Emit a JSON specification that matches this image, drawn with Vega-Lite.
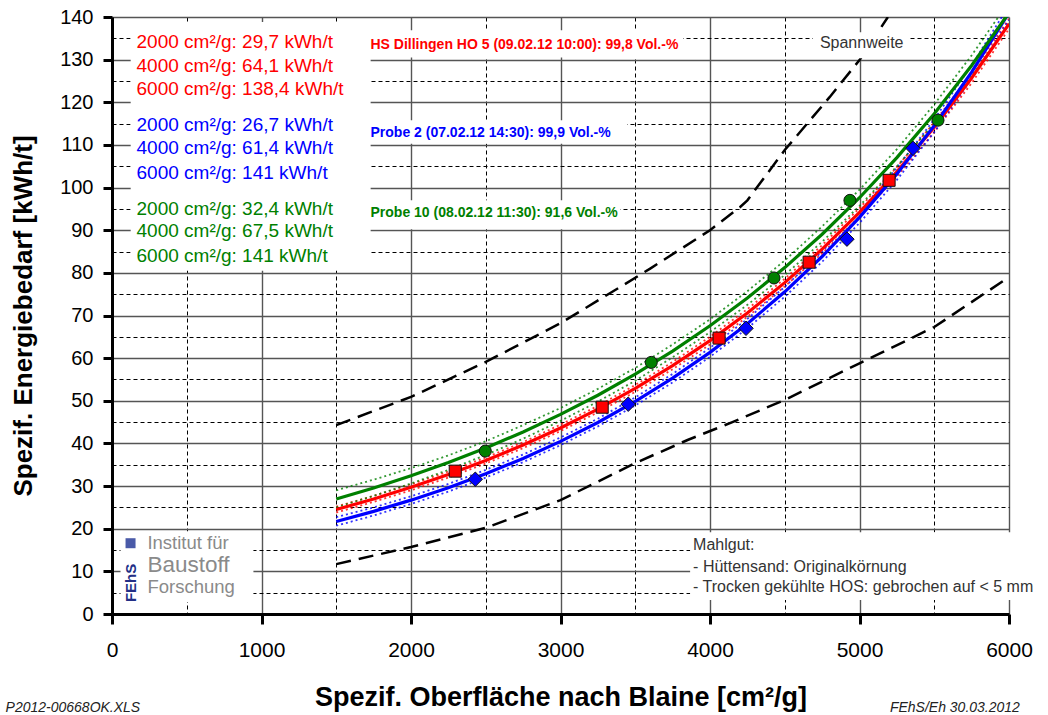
{
  "$schema": "https://vega.github.io/schema/vega-lite/v6.json",
  "width": 897,
  "height": 597,
  "autosize": {"type": "none"},
  "padding": {"left": 112, "top": 17, "right": 39, "bottom": 101},
  "background": "white",
  "config": {"view": {"stroke": null}, "font": "Liberation Sans"},
  "datasets": {
    "span": [
      {"x": 1500, "c": "upper", "y": 44.3}, {"x": 2000, "c": "upper", "y": 50.9}, {"x": 2500, "c": "upper", "y": 59.1},
      {"x": 3000, "c": "upper", "y": 68.2}, {"x": 3400, "c": "upper", "y": 76.7}, {"x": 3600, "c": "upper", "y": 81.0},
      {"x": 4000, "c": "upper", "y": 90.0}, {"x": 4200, "c": "upper", "y": 95.4}, {"x": 4250, "c": "upper", "y": 97.0},
      {"x": 4500, "c": "upper", "y": 108.8}, {"x": 4800, "c": "upper", "y": 121.2}, {"x": 5000, "c": "upper", "y": 129.9},
      {"x": 5190, "c": "upper", "y": 140.0},
      {"x": 1500, "c": "lower", "y": 11.7}, {"x": 2000, "c": "lower", "y": 15.7}, {"x": 2500, "c": "lower", "y": 20.2},
      {"x": 3000, "c": "lower", "y": 26.7}, {"x": 3500, "c": "lower", "y": 35.4}, {"x": 3850, "c": "lower", "y": 40.8},
      {"x": 4150, "c": "lower", "y": 45.0}, {"x": 4500, "c": "lower", "y": 50.2}, {"x": 5000, "c": "lower", "y": 58.8},
      {"x": 5500, "c": "lower", "y": 67.3}, {"x": 6000, "c": "lower", "y": 79.0}
    ],
    "fits": [
      {"x": 1500, "s": "HS", "y": 24.5, "lo": 23.8, "hi": 25.2},
      {"x": 1750, "s": "HS", "y": 26.98, "lo": 26.3, "hi": 27.7},
      {"x": 2000, "s": "HS", "y": 29.7, "lo": 29.0, "hi": 30.4},
      {"x": 2250, "s": "HS", "y": 32.7, "lo": 32.0, "hi": 33.4},
      {"x": 2500, "s": "HS", "y": 36.0, "lo": 35.3, "hi": 36.7},
      {"x": 2750, "s": "HS", "y": 39.63, "lo": 38.9, "hi": 40.3},
      {"x": 3000, "s": "HS", "y": 43.63, "lo": 42.9, "hi": 44.4},
      {"x": 3250, "s": "HS", "y": 48.04, "lo": 47.3, "hi": 48.8},
      {"x": 3500, "s": "HS", "y": 52.89, "lo": 52.1, "hi": 53.7},
      {"x": 3750, "s": "HS", "y": 58.23, "lo": 57.4, "hi": 59.1},
      {"x": 4000, "s": "HS", "y": 64.11, "lo": 63.2, "hi": 65.0},
      {"x": 4250, "s": "HS", "y": 70.58, "lo": 69.7, "hi": 71.5},
      {"x": 4500, "s": "HS", "y": 77.71, "lo": 76.8, "hi": 78.6},
      {"x": 4750, "s": "HS", "y": 85.55, "lo": 84.6, "hi": 86.5},
      {"x": 5000, "s": "HS", "y": 94.19, "lo": 93.2, "hi": 95.2},
      {"x": 5250, "s": "HS", "y": 103.7, "lo": 102.6, "hi": 104.8},
      {"x": 5500, "s": "HS", "y": 114.17, "lo": 113.0, "hi": 115.3},
      {"x": 5750, "s": "HS", "y": 125.7, "lo": 124.5, "hi": 126.9},
      {"x": 6000, "s": "HS", "y": 138.39, "lo": 137.2, "hi": 139.6},
      {"x": 1500, "s": "P2", "y": 21.69, "lo": 20.7, "hi": 22.7},
      {"x": 1750, "s": "P2", "y": 24.06, "lo": 23.1, "hi": 25.0},
      {"x": 2000, "s": "P2", "y": 26.7, "lo": 25.8, "hi": 27.6},
      {"x": 2250, "s": "P2", "y": 29.63, "lo": 28.7, "hi": 30.5},
      {"x": 2500, "s": "P2", "y": 32.87, "lo": 32.0, "hi": 33.8},
      {"x": 2750, "s": "P2", "y": 36.48, "lo": 35.6, "hi": 37.4},
      {"x": 3000, "s": "P2", "y": 40.48, "lo": 39.6, "hi": 41.4},
      {"x": 3250, "s": "P2", "y": 44.91, "lo": 44.0, "hi": 45.8},
      {"x": 3500, "s": "P2", "y": 49.84, "lo": 48.9, "hi": 50.8},
      {"x": 3750, "s": "P2", "y": 55.3, "lo": 54.3, "hi": 56.3},
      {"x": 4000, "s": "P2", "y": 61.36, "lo": 60.3, "hi": 62.4},
      {"x": 4250, "s": "P2", "y": 68.08, "lo": 67.0, "hi": 69.2},
      {"x": 4500, "s": "P2", "y": 75.55, "lo": 74.4, "hi": 76.7},
      {"x": 4750, "s": "P2", "y": 83.83, "lo": 82.6, "hi": 85.0},
      {"x": 5000, "s": "P2", "y": 93.02, "lo": 91.7, "hi": 94.3},
      {"x": 5250, "s": "P2", "y": 103.21, "lo": 101.8, "hi": 104.6},
      {"x": 5500, "s": "P2", "y": 114.53, "lo": 113.0, "hi": 116.0},
      {"x": 5750, "s": "P2", "y": 127.08, "lo": 125.5, "hi": 128.7},
      {"x": 6000, "s": "P2", "y": 141.01, "lo": 139.3, "hi": 142.7},
      {"x": 1500, "s": "P10", "y": 26.96, "lo": 25.0, "hi": 29.0},
      {"x": 1750, "s": "P10", "y": 29.55, "lo": 27.7, "hi": 31.5},
      {"x": 2000, "s": "P10", "y": 32.4, "lo": 30.6, "hi": 34.2},
      {"x": 2250, "s": "P10", "y": 35.52, "lo": 33.8, "hi": 37.2},
      {"x": 2500, "s": "P10", "y": 38.94, "lo": 37.3, "hi": 40.5},
      {"x": 2750, "s": "P10", "y": 42.69, "lo": 41.1, "hi": 44.3},
      {"x": 3000, "s": "P10", "y": 46.8, "lo": 45.3, "hi": 48.3},
      {"x": 3250, "s": "P10", "y": 51.3, "lo": 49.8, "hi": 52.8},
      {"x": 3500, "s": "P10", "y": 56.24, "lo": 54.7, "hi": 57.7},
      {"x": 3750, "s": "P10", "y": 61.66, "lo": 60.2, "hi": 63.2},
      {"x": 4000, "s": "P10", "y": 67.59, "lo": 66.1, "hi": 69.1},
      {"x": 4250, "s": "P10", "y": 74.1, "lo": 72.5, "hi": 75.7},
      {"x": 4500, "s": "P10", "y": 81.23, "lo": 79.5, "hi": 82.9},
      {"x": 4750, "s": "P10", "y": 89.05, "lo": 87.3, "hi": 90.9},
      {"x": 5000, "s": "P10", "y": 97.62, "lo": 95.7, "hi": 99.5},
      {"x": 5250, "s": "P10", "y": 107.02, "lo": 105.0, "hi": 109.0},
      {"x": 5500, "s": "P10", "y": 117.32, "lo": 115.1, "hi": 119.5},
      {"x": 5750, "s": "P10", "y": 128.62, "lo": 126.2, "hi": 131.0},
      {"x": 6000, "s": "P10", "y": 141.0, "lo": 138.4, "hi": 143.6}
    ],
    "pts": [
      {"x": 2296, "s": "HS", "y": 33.5}, {"x": 3279, "s": "HS", "y": 48.5}, {"x": 4061, "s": "HS", "y": 64.7},
      {"x": 4663, "s": "HS", "y": 82.5}, {"x": 5198, "s": "HS", "y": 101.7},
      {"x": 2430, "s": "P2", "y": 31.6}, {"x": 3453, "s": "P2", "y": 49.2}, {"x": 4241, "s": "P2", "y": 67.0},
      {"x": 4916, "s": "P2", "y": 87.9}, {"x": 5358, "s": "P2", "y": 109.2},
      {"x": 2497, "s": "P10", "y": 38.2}, {"x": 3607, "s": "P10", "y": 59.0}, {"x": 4428, "s": "P10", "y": 78.8},
      {"x": 4936, "s": "P10", "y": 97.0}, {"x": 5525, "s": "P10", "y": 115.8}
    ],
    "boxes": [
      {"x": 125, "x2": 1730, "y": 80.5, "y2": 138.8},
      {"x": 1715, "x2": 3820, "y": 130.5, "y2": 136.9},
      {"x": 1715, "x2": 3446, "y": 110.3, "y2": 115.8},
      {"x": 1715, "x2": 3400, "y": 90.2, "y2": 97.0},
      {"x": 4689, "x2": 5338, "y": 130.3, "y2": 136.4},
      {"x": 3867, "x2": 6300, "y": 3.3, "y2": 19.2},
      {"x": 57, "x2": 946, "y": 2.8, "y2": 19.4}
    ],
    "lab": [
      {"x": 164, "y": 134.2, "s": "HS", "t": "2000 cm²/g: 29,7 kWh/t"},
      {"x": 164, "y": 128.5, "s": "HS", "t": "4000 cm²/g: 64,1 kWh/t"},
      {"x": 164, "y": 123.0, "s": "HS", "t": "6000 cm²/g: 138,4 kWh/t"},
      {"x": 164, "y": 114.6, "s": "P2", "t": "2000 cm²/g: 26,7 kWh/t"},
      {"x": 164, "y": 109.2, "s": "P2", "t": "4000 cm²/g: 61,4 kWh/t"},
      {"x": 164, "y": 103.5, "s": "P2", "t": "6000 cm²/g: 141 kWh/t"},
      {"x": 164, "y": 94.9, "s": "P10", "t": "2000 cm²/g: 32,4 kWh/t"},
      {"x": 164, "y": 89.8, "s": "P10", "t": "4000 cm²/g: 67,5 kWh/t"},
      {"x": 164, "y": 83.9, "s": "P10", "t": "6000 cm²/g: 141 kWh/t"}
    ],
    "head": [
      {"x": 1729, "y": 133.4, "s": "HS", "t": "HS Dillingen HO 5 (09.02.12 10:00): 99,8 Vol.-%"},
      {"x": 1729, "y": 112.7, "s": "P2", "t": "Probe 2 (07.02.12 14:30): 99,9 Vol.-%"},
      {"x": 1729, "y": 94.1, "s": "P10", "t": "Probe 10 (08.02.12 11:30): 91,6 Vol.-%"}
    ],
    "notes": [
      {"x": 4735, "y": 133.8, "t": "Spannweite"},
      {"x": 3887, "y": 16.2, "t": "Mahlgut:"},
      {"x": 3887, "y": 11.0, "t": "- Hüttensand: Originalkörnung"},
      {"x": 3887, "y": 6.3, "t": "- Trocken gekühlte HOS: gebrochen auf < 5 mm"}
    ],
    "logoA": [
      {"x": 237, "y": 16.6, "t": "Institut für"},
      {"x": 237, "y": 6.3, "t": "Forschung"}
    ],
    "logoB": [{"x": 237, "y": 11.4, "t": "Baustoff"}],
    "fehs": [{"x": 124, "y": 7.3, "t": "FEhS"}],
    "icon": [{"x": 124, "y": 16.6}],
    "footL": [{"x": -712, "y": -22, "t": "P2012-00668OK.XLS"}],
    "footR": [{"x": 6073, "y": -22, "t": "FEhS/Eh 30.03.2012"}]
  },
  "encoding": {
    "x": {
      "field": "x", "type": "quantitative",
      "scale": {"domain": [0, 6000], "nice": false, "zero": true},
      "axis": {
        "values": [0, 500, 1000, 1500, 2000, 2500, 3000, 3500, 4000, 4500, 5000, 5500, 6000],
        "title": "Spezif. Oberfläche nach Blaine [cm²/g]",
        "titleFont": "Liberation Sans", "titleFontSize": 27, "titleFontWeight": "bold", "titleColor": "black",
        "titlePadding": 24,
        "labelExpr": "datum.value % 1000 === 0 ? datum.label : ''",
        "format": "d",
        "labelFont": "Liberation Sans", "labelFontSize": 21, "labelColor": "black", "labelPadding": 15,
        "labelFlush": false, "labelOverlap": false, "labelBound": false,
        "tickSize": 10, "tickWidth": 3, "tickColor": "black",
        "tickOpacity": {"condition": {"test": "datum.value % 1000 === 0", "value": 1}, "value": 0},
        "domainColor": "black", "domainWidth": 3,
        "grid": true,
        "gridColor": {"condition": {"test": "datum.value % 1000 === 0", "value": "#555555"}, "value": "#000000"},
        "gridDash": {"condition": {"test": "datum.value % 1000 === 0", "value": []}, "value": [4, 3]},
        "gridWidth": {"condition": {"test": "datum.value % 1000 === 0", "value": 1.4}, "value": 1}
      }
    },
    "y": {
      "field": "y", "type": "quantitative",
      "scale": {"domain": [0, 140], "nice": false},
      "axis": {
        "values": [0, 5, 10, 15, 20, 25, 30, 35, 40, 45, 50, 55, 60, 65, 70, 75, 80, 85, 90, 95, 100, 105, 110, 115, 120, 125, 130, 135, 140],
        "title": "Spezif. Energiebedarf [kWh/t]",
        "titleFont": "Liberation Sans", "titleFontSize": 26, "titleFontWeight": "bold", "titleColor": "black",
        "titlePadding": 23,
        "labelExpr": "datum.value % 10 === 0 ? datum.label : ''",
        "format": "d",
        "labelFont": "Liberation Sans", "labelFontSize": 20, "labelColor": "black", "labelPadding": 10,
        "labelOverlap": false, "labelFlush": false, "labelBound": false,
        "tickSize": 9, "tickWidth": 3, "tickColor": "black",
        "tickOpacity": {"condition": {"test": "datum.value % 10 === 0", "value": 1}, "value": 0},
        "domainColor": "black", "domainWidth": 3,
        "grid": true,
        "gridColor": {"condition": {"test": "datum.value % 10 === 0", "value": "#555555"}, "value": "#000000"},
        "gridDash": {"condition": {"test": "datum.value % 10 === 0", "value": []}, "value": [4, 3]},
        "gridWidth": {"condition": {"test": "datum.value % 10 === 0", "value": 1.4}, "value": 1}
      }
    }
  },
  "layer": [
    {
      "data": {"name": "span"},
      "mark": {"type": "line", "color": "black", "strokeWidth": 2.5, "strokeDash": [15, 8], "clip": true},
      "encoding": {"detail": {"field": "c"}}
    },
    {
      "data": {"name": "fits"},
      "transform": [{"fold": ["lo", "hi"], "as": ["b", "y"]}],
      "mark": {"type": "line", "strokeWidth": 1.8, "strokeDash": [2, 3], "opacity": 0.8, "clip": true},
      "encoding": {
        "color": {"field": "s", "type": "nominal", "scale": {"domain": ["HS", "P2", "P10"], "range": ["#ff0000", "#0000ff", "#008000"]}, "legend": null},
        "detail": {"field": "b"}
      }
    },
    {
      "data": {"name": "fits"},
      "mark": {"type": "line", "strokeWidth": 3.2, "clip": true},
      "encoding": {
        "color": {"field": "s", "type": "nominal", "legend": null}
      }
    },
    {
      "data": {"name": "pts"},
      "mark": {"type": "point", "filled": true, "size": 145, "stroke": "#111111", "strokeWidth": 1, "opacity": 1},
      "encoding": {
        "fill": {"field": "s", "type": "nominal", "scale": {"domain": ["HS", "P2", "P10"], "range": ["#ff0000", "#0000ff", "#008000"]}, "legend": null},
        "shape": {"field": "s", "type": "nominal", "scale": {"domain": ["HS", "P2", "P10"], "range": ["square", "M-1.2,0L0,-1.2L1.2,0L0,1.2Z", "circle"]}, "legend": null}
      }
    },
    {
      "data": {"name": "boxes"},
      "mark": {"type": "rect", "fill": "white"},
      "encoding": {
        "x2": {"field": "x2"},
        "y2": {"field": "y2"}
      }
    },
    {
      "data": {"name": "lab"},
      "mark": {"type": "text", "align": "left", "baseline": "middle", "fontSize": 19, "font": "Liberation Sans"},
      "encoding": {
        "text": {"field": "t"},
        "color": {"field": "s", "type": "nominal", "legend": null}
      }
    },
    {
      "data": {"name": "head"},
      "mark": {"type": "text", "align": "left", "baseline": "middle", "fontSize": 14, "fontWeight": "bold", "font": "Liberation Sans"},
      "encoding": {
        "text": {"field": "t"},
        "color": {"field": "s", "type": "nominal", "legend": null}
      }
    },
    {
      "data": {"name": "notes"},
      "mark": {"type": "text", "align": "left", "baseline": "middle", "fontSize": 16, "color": "#333333", "font": "Liberation Sans"},
      "encoding": {"text": {"field": "t"}}
    },
    {
      "data": {"name": "logoA"},
      "mark": {"type": "text", "align": "left", "baseline": "middle", "fontSize": 18.5, "color": "#8a8a8a", "font": "Liberation Sans"},
      "encoding": {"text": {"field": "t"}}
    },
    {
      "data": {"name": "logoB"},
      "mark": {"type": "text", "align": "left", "baseline": "middle", "fontSize": 22.5, "color": "#8a8a8a", "font": "Liberation Sans"},
      "encoding": {"text": {"field": "t"}}
    },
    {
      "data": {"name": "fehs"},
      "mark": {"type": "text", "align": "center", "baseline": "middle", "angle": 270, "fontSize": 15, "fontWeight": "bold", "color": "#232f86", "font": "Liberation Sans"},
      "encoding": {"text": {"field": "t"}}
    },
    {
      "data": {"name": "icon"},
      "mark": {"type": "square", "size": 100, "color": "#4a5aa8", "opacity": 1, "filled": true},
      "encoding": {}
    },
    {
      "data": {"name": "footL"},
      "mark": {"type": "text", "align": "left", "baseline": "middle", "fontSize": 14, "fontStyle": "italic", "color": "#222222", "font": "Liberation Sans"},
      "encoding": {"text": {"field": "t"}}
    },
    {
      "data": {"name": "footR"},
      "mark": {"type": "text", "align": "right", "baseline": "middle", "fontSize": 14, "fontStyle": "italic", "color": "#222222", "font": "Liberation Sans"},
      "encoding": {"text": {"field": "t"}}
    }
  ]
}
